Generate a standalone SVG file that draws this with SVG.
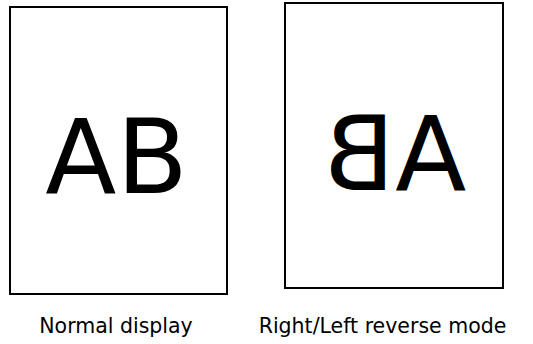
<svg xmlns="http://www.w3.org/2000/svg" width="533" height="344" viewBox="0 0 533 344">
<style>
.frame{fill:#fff;stroke:#000;stroke-width:2}
.big{font-family:"DejaVu Sans",Verdana,sans-serif;font-size:104px;fill:#000;text-anchor:middle}
.lbl{font-family:"DejaVu Sans",Verdana,sans-serif;font-size:20.5px;fill:#000;text-anchor:middle}
</style>
<rect width="533" height="344" fill="#fff"/>
<g id="normal">
<rect class="frame" x="10" y="7" width="217" height="287"/>
<text class="big" x="116.5" y="193">AB</text>
<text class="lbl" x="116" y="333">Normal display</text>
</g>
<g id="reverse">
<rect class="frame" x="285" y="3" width="218" height="285"/>
<g transform="scale(-1,1)"><text class="big" x="-395" y="190">AB</text></g>
<text class="lbl" x="382.5" y="333">Right/Left reverse mode</text>
</g>
</svg>
